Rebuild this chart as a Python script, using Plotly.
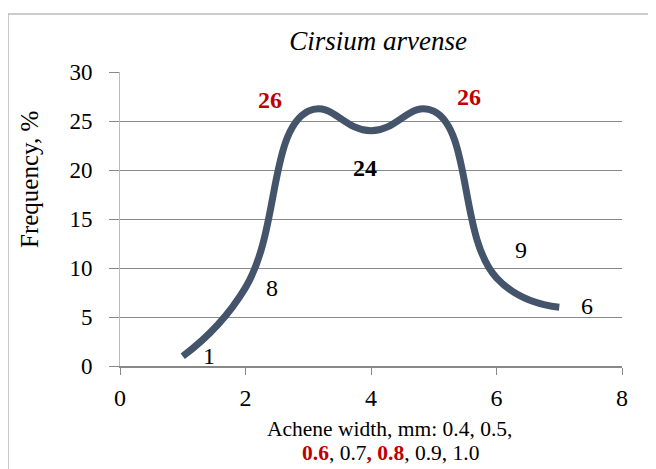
import plotly.graph_objects as go

x_vals = [1, 2, 3, 4, 5, 6, 7]
freq = [1, 8, 26, 24, 26, 9, 6]
label_text = ["1", "8", "<b>26</b>", "<b>24</b>", "<b>26</b>", "9", "6"]
label_color = ["black", "black", "#C00000", "black", "#C00000", "black", "black"]
label_dx = [26, 26, -38, -6, 35, 24, 28]
label_dy = [0, 0, 11, -37, 14, 28, 1]
x_ticks = [0, 2, 4, 6, 8]
y_ticks = [0, 5, 10, 15, 20, 25, 30]
xtitle_line1 = "Achene width, mm: 0.4, 0.5,"
xtitle_line2 = ("<span style='color:#C00000'><b>0.6</b></span>, 0.7"
                "<span style='color:#C00000'><b>, 0.8</b></span>, 0.9, 1.0")

FONT = "Liberation Serif"
LINE = "#44546A"

# plot area (page pixels in the reference): left 120, right 622, top 72, bottom 366
PL, PR, PT, PB = 120, 622, 72, 366
PW, PH = PR - PL, PB - PT


def px(x):
    return (x - PL) / PW


def py(y):
    return (PB - y) / PH


fig = go.Figure()
fig.add_trace(go.Scatter(
    x=x_vals, y=freq, mode="lines",
    line=dict(color=LINE, width=7, shape="spline", smoothing=1.3),
    hoverinfo="skip", showlegend=False,
))

for xv, yv, t, c, dx, dy in zip(x_vals, freq, label_text, label_color, label_dx, label_dy):
    fig.add_annotation(x=xv, y=yv, text=t, showarrow=False, xshift=dx, yshift=dy,
                       font=dict(family=FONT, size=24, color=c))

fig.add_annotation(
    xref="paper", yref="paper", x=px(389), y=py(429),
    xanchor="center", yanchor="middle", showarrow=False,
    text=xtitle_line1, font=dict(family=FONT, size=21.5, color="black"),
)
fig.add_annotation(
    xref="paper", yref="paper", x=px(390), y=py(453),
    xanchor="center", yanchor="middle", showarrow=False,
    text=xtitle_line2, font=dict(family=FONT, size=21.5, color="black"),
)

fig.add_annotation(
    xref="paper", yref="paper", x=px(29), y=py(180),
    xanchor="center", yanchor="middle", showarrow=False, textangle=-90,
    text="Frequency, %", font=dict(family=FONT, size=25, color="black"),
)

# chart border (top and left visible)
fig.add_shape(type="line", xref="paper", yref="paper",
              x0=px(8), x1=1.3, y0=py(14), y1=py(14),
              line=dict(color="#BBBBBB", width=1.5))
fig.add_shape(type="line", xref="paper", yref="paper",
              x0=px(8), x1=px(8), y0=py(14), y1=-0.6,
              line=dict(color="#BBBBBB", width=1.5))

# page body has an 8px offset, so figure coords = reference coords - 8
fig.update_layout(
    width=656, height=469,
    margin=dict(l=PL - 8, r=656 - PR + 8, t=PT - 8, b=469 - PB + 8),
    paper_bgcolor="white", plot_bgcolor="white",
    title=dict(text="<i>Cirsium arvense</i>", x=(378 - 8) / 656, xanchor="center",
               y=1 - (41 - 8) / 469, yanchor="middle",
               font=dict(family=FONT, size=27, color="black")),
    font=dict(family=FONT, color="black"),
)
fig.update_xaxes(range=[0, 8], tickvals=x_ticks, showgrid=False, zeroline=False,
                 showline=True, linecolor="#888888", linewidth=1.5,
                 ticks="outside", ticklen=7, tickcolor="#888888",
                 ticklabelstandoff=2,
                 tickfont=dict(family=FONT, size=24, color="black"))
fig.update_yaxes(range=[0, 30], tickvals=y_ticks, showgrid=True, gridcolor="#888888",
                 gridwidth=1.2, zeroline=False, showline=True, linecolor="#BBBBBB",
                 ticks="outside", ticklen=10, tickcolor="#888888",
                 ticklabelstandoff=12,
                 tickfont=dict(family=FONT, size=23, color="black"))

fig.write_html("out.html")
